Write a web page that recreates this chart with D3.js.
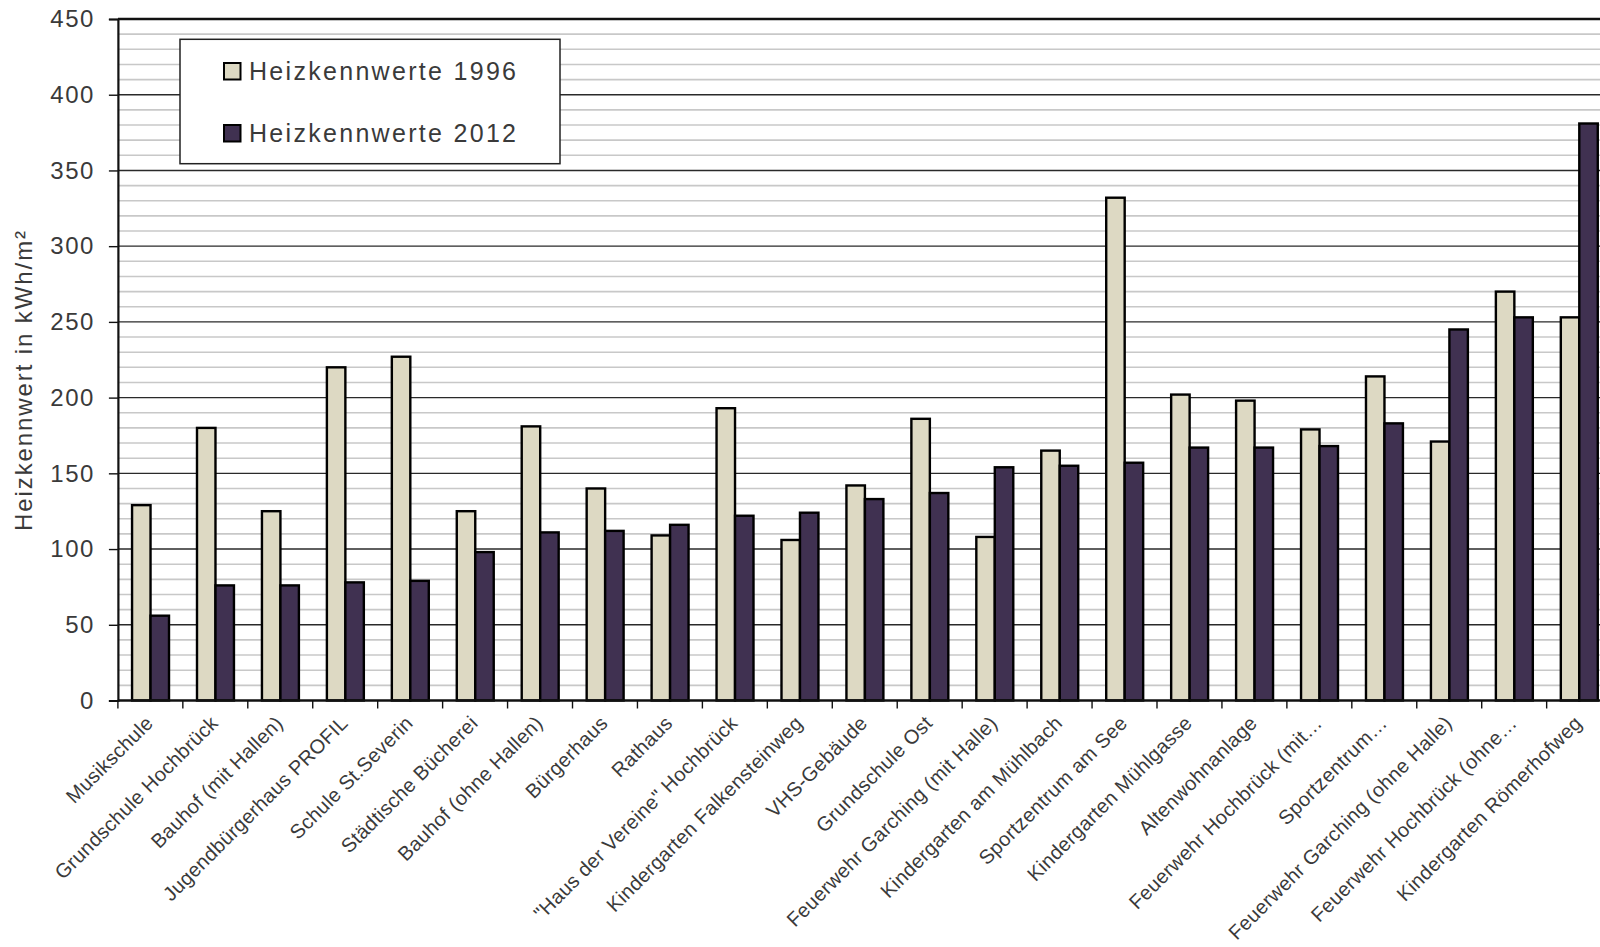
<!DOCTYPE html>
<html>
<head>
<meta charset="utf-8">
<script src="https://cdn.jsdelivr.net/npm/d3@7"></script>
<style>
  html, body { margin: 0; padding: 0; background: #fff; }
  svg { display: block; }
  text { font-family: "Liberation Sans", Arial, sans-serif; fill: #3a3a3a; }
</style>
</head>
<body>
<svg id="chart" width="1600" height="947"></svg>
<script>
const categories = [
  "Musikschule", "Grundschule Hochbrück", "Bauhof (mit Hallen)", "Jugendbürgerhaus PROFIL",
  "Schule St.Severin", "Städtische Bücherei", "Bauhof (ohne Hallen)", "Bürgerhaus", "Rathaus",
  "\"Haus der Vereine\" Hochbrück", "Kindergarten Falkensteinweg", "VHS-Gebäude", "Grundschule Ost",
  "Feuerwehr Garching (mit Halle)", "Kindergarten am Mühlbach", "Sportzentrum am See",
  "Kindergarten Mühlgasse", "Altenwohnanlage", "Feuerwehr Hochbrück (mit…", "Sportzentrum…",
  "Feuerwehr Garching (ohne Halle)", "Feuerwehr Hochbrück (ohne…", "Kindergarten Römerhofweg"
];
const values1996 = [129, 180, 125, 220, 227, 125, 181, 140, 109, 193, 106, 142, 186, 108, 165, 332, 202, 198, 179, 214, 171, 270, 253];
const values2012 = [56, 76, 76, 78, 79, 98, 111, 112, 116, 122, 124, 133, 137, 154, 155, 157, 167, 167, 168, 183, 245, 253, 381];
const seriesNames = ["Heizkennwerte 1996", "Heizkennwerte 2012"];
const seriesColors = ["#DDD9C3", "#403151"];
const yTicks = [0, 50, 100, 150, 200, 250, 300, 350, 400, 450];
const yLabel = "Heizkennwert in kWh/m²";

const svg = d3.select("#chart");
const x0 = 117.9, x1 = 1611.6, yTop = 19, yBottom = 700.5;

const x = d3.scaleBand().domain(categories).range([x0, x1]).padding(0);
const bw = x.bandwidth();
const xs = d3.scaleBand().domain(seriesNames).range([bw * 0.218, bw * 0.787]).padding(0);
const y = d3.scaleLinear().domain([0, 450]).range([yBottom, yTop]);

// minor gridlines
const minor = d3.range(10, 450, 10).filter(v => v % 50 !== 0);
svg.append("g").selectAll("line").data(minor).join("line")
  .attr("x1", x0).attr("x2", 1600)
  .attr("y1", d => y(d)).attr("y2", d => y(d))
  .attr("stroke", "#c8c8c8").attr("stroke-width", 1.6);

// major gridlines
svg.append("g").selectAll("line").data(yTicks.filter(v => v > 0)).join("line")
  .attr("x1", x0).attr("x2", 1600)
  .attr("y1", d => y(d)).attr("y2", d => y(d))
  .attr("stroke", d => d === 450 ? "#111" : "#2a2a2a")
  .attr("stroke-width", d => d === 450 ? 2.6 : 1.4);

// bars
const groups = svg.append("g").selectAll("g").data(categories).join("g")
  .attr("transform", d => `translate(${x(d)},0)`);
groups.selectAll("rect")
  .data((d, i) => [
    {s: seriesNames[0], v: values1996[i], c: seriesColors[0]},
    {s: seriesNames[1], v: values2012[i], c: seriesColors[1]}
  ])
  .join("rect")
  .attr("x", d => xs(d.s))
  .attr("width", xs.bandwidth())
  .attr("y", d => y(d.v))
  .attr("height", d => y(0) - y(d.v))
  .attr("fill", d => d.c)
  .attr("stroke", "#000")
  .attr("stroke-width", 2.4);

// y axis
const yAxis = svg.append("g").attr("transform", `translate(${x0},0)`)
  .call(d3.axisLeft(y).tickValues(yTicks).tickSize(9).tickPadding(14));
yAxis.select(".domain").attr("stroke", "#111").attr("stroke-width", 2.2);
yAxis.selectAll(".tick line").attr("stroke", "#111").attr("stroke-width", 1.4);
yAxis.selectAll(".tick text")
  .style("font-family", "'Liberation Sans', Arial, sans-serif")
  .style("font-size", "24px").style("letter-spacing", "1.5px")
  .attr("fill", "#3a3a3a");

// x axis
const xAxis = svg.append("g").attr("transform", `translate(0,${yBottom})`);
xAxis.append("line").attr("x1", x0).attr("x2", 1600).attr("y1", 0).attr("y2", 0)
  .attr("stroke", "#111").attr("stroke-width", 2.4);
xAxis.selectAll("line.tk").data(categories).join("line").attr("class", "tk")
  .attr("x1", d => x(d)).attr("x2", d => x(d)).attr("y1", 0).attr("y2", 8)
  .attr("stroke", "#111").attr("stroke-width", 1.4);
xAxis.selectAll("text").data(categories).join("text")
  .attr("transform", d => `translate(${x(d) + bw / 2 - 1},${19}) rotate(-45)`)
  .attr("text-anchor", "end")
  .attr("dy", "0.35em")
  .style("font-size", "20px").style("letter-spacing", "0.3px")
  .text(d => d);

// y label
svg.append("text")
  .attr("transform", "translate(32,380) rotate(-90)")
  .attr("text-anchor", "middle")
  .style("font-size", "24px").style("letter-spacing", "1.9px")
  .text(yLabel);

// legend
const lg = svg.append("g");
lg.append("rect").attr("x", 180).attr("y", 39.3).attr("width", 380).attr("height", 124.4)
  .attr("fill", "#fff").attr("stroke", "#222").attr("stroke-width", 1.5);
const items = lg.selectAll("g").data(seriesNames).join("g")
  .attr("transform", (d, i) => `translate(0,${i * 62})`);
items.append("rect").attr("x", 224).attr("y", 63).attr("width", 16.5).attr("height", 16.5)
  .attr("fill", (d, i) => seriesColors[i]).attr("stroke", "#000").attr("stroke-width", 2);
items.append("text").attr("x", 249).attr("y", 80)
  .style("font-size", "25px").style("letter-spacing", "2.3px")
  .text(d => d);
</script>
</body>
</html>
